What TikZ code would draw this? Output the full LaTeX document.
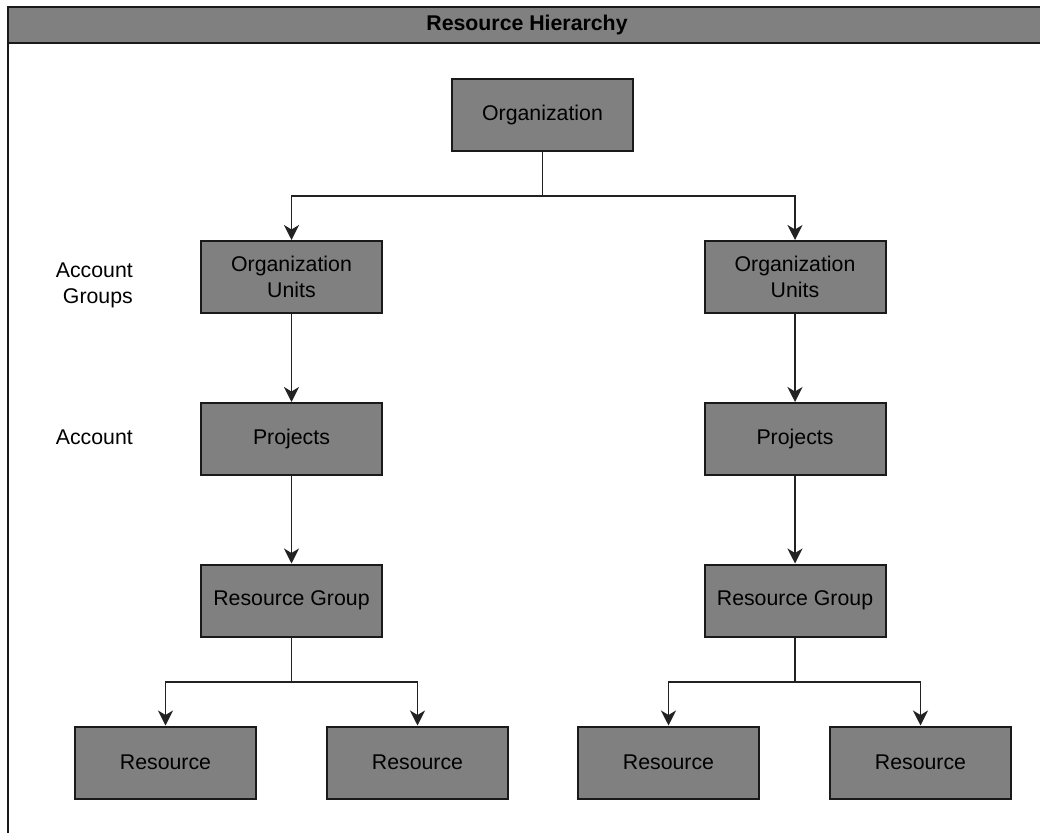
\documentclass[tikz,border=0pt]{standalone}
\usepackage{fontspec}
\setmainfont{Liberation Sans}
\usetikzlibrary{arrows.meta}
\definecolor{boxfill}{HTML}{808080}
\definecolor{boxline}{HTML}{1A1A1A}
\definecolor{wire}{HTML}{222222}
\tikzset{
  txt/.style={font=\fontsize{21.3}{26}\selectfont, text=black},
  unit/.style={txt, draw=boxline, fill=boxfill, line width=2pt,
    minimum width=181, minimum height=72, inner sep=0pt, align=center},
  sidelabel/.style={txt, inner sep=0pt, align=right, anchor=east},
  link/.style={draw=wire, line width=1.8pt},
  arr/.style={link, -{Stealth[length=15pt, width=15pt, inset=4.5pt]}}
}
\begin{document}
\begin{tikzpicture}[x=1pt, y=-1pt]
  \useasboundingbox (0,0) rectangle (1040,832);
  \clip (0,0) rectangle (1040,832);

  % outer container with its title band
  \draw[draw=boxline, line width=2pt] (8,7) rectangle (1070,870);
  \draw[draw=boxline, fill=boxfill, line width=2pt] (8,7) rectangle (1070,43);
  \node[txt, font=\fontsize{21.3}{26}\selectfont\bfseries] (title) at (527,25) {Resource Hierarchy};

  % hierarchy boxes
  \node[unit] (org)  at (542.5,115) {Organization};
  \node[unit] (ouL)  at (291.5,277) {Organization\\Units};
  \node[unit] (ouR)  at (795,277)   {Organization\\Units};
  \node[unit] (prL)  at (291.5,439) {Projects};
  \node[unit] (prR)  at (795,439)   {Projects};
  \node[unit] (rgL)  at (291.5,600.5) {Resource Group};
  \node[unit] (rgR)  at (795,600.5)   {Resource Group};
  \node[unit] (r1)   at (165.5,762.5) {Resource};
  \node[unit] (r2)   at (417.5,762.5) {Resource};
  \node[unit] (r3)   at (668.5,762.5) {Resource};
  \node[unit] (r4)   at (920.5,762.5) {Resource};

  % level labels
  \node[sidelabel] (lblGroups)  at (133,285) {Account\\Groups};
  \node[sidelabel] (lblAccount) at (133,437) {Account};

  % branch points
  \coordinate (jTop) at (542.5,196);
  \coordinate (jL)   at (291.5,682);
  \coordinate (jR)   at (795,682);

  % connectors
  \draw[link] (org) -- (jTop);
  \draw[arr] (jTop) -| (ouL);
  \draw[arr] (jTop) -| (ouR);
  \draw[arr] (ouL) -- (prL);
  \draw[arr] (ouR) -- (prR);
  \draw[arr] (prL) -- (rgL);
  \draw[arr] (prR) -- (rgR);
  \draw[link] (rgL) -- (jL);
  \draw[link] (rgR) -- (jR);
  \draw[arr] (jL) -| (r1);
  \draw[arr] (jL) -| (r2);
  \draw[arr] (jR) -| (r3);
  \draw[arr] (jR) -| (r4);
\end{tikzpicture}
\end{document}
